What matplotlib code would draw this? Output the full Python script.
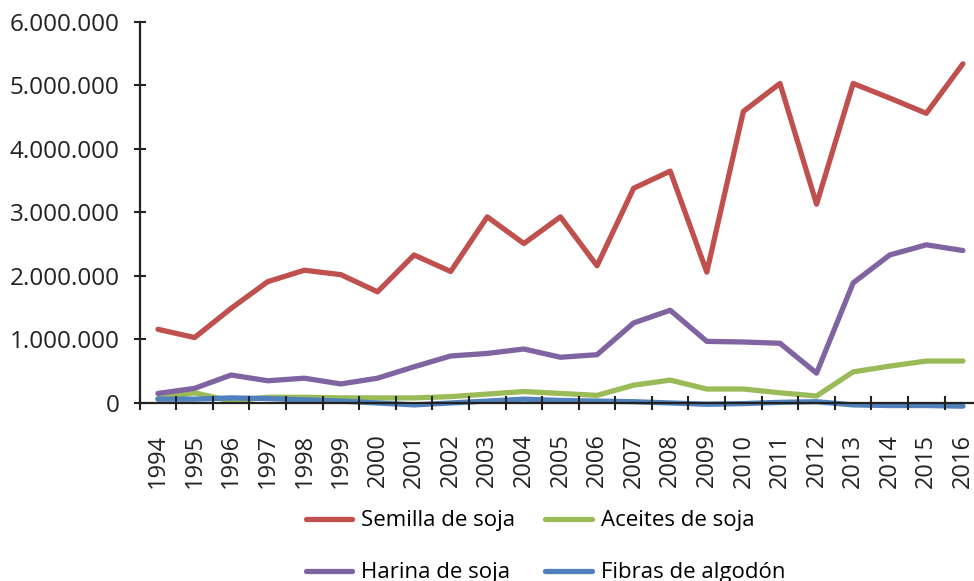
import matplotlib.pyplot as plt
from matplotlib.ticker import FuncFormatter

plt.rcParams['font.family'] = ['Open Sans', 'DejaVu Sans']

# Años y series
anios = [str(a) for a in range(1994, 2017)]
semilla = [1.16, 1.03, 1.49, 1.91, 2.09, 2.02, 1.75, 2.33, 2.07, 2.93, 2.51, 2.93,
           2.16, 3.38, 3.65, 2.06, 4.59, 5.03, 3.13, 5.03, 4.80, 4.56, 5.34]
aceites = [0.07, 0.16, 0.03, 0.09, 0.09, 0.08, 0.08, 0.08, 0.10, 0.14, 0.18, 0.15,
           0.12, 0.28, 0.36, 0.22, 0.22, 0.16, 0.11, 0.49, 0.58, 0.66, 0.66]
harina = [0.15, 0.23, 0.44, 0.35, 0.39, 0.30, 0.39, 0.57, 0.74, 0.78, 0.85, 0.72,
          0.76, 1.26, 1.46, 0.97, 0.96, 0.94, 0.47, 1.89, 2.33, 2.49, 2.40]
fibras = [0.06, 0.06, 0.08, 0.07, 0.05, 0.03, 0.00, -0.03, 0.00, 0.03, 0.06, 0.04,
          0.03, 0.02, 0.00, -0.02, -0.01, 0.01, 0.02, -0.03, -0.04, -0.04, -0.05]

series = [
    ("Semilla de soja", semilla, "#C0504D"),
    ("Aceites de soja", aceites, "#9BBB59"),
    ("Harina de soja", harina, "#8064A2"),
    ("Fibras de algodón", fibras, "#4F81BD"),
]

fig = plt.figure(figsize=(9.74, 5.81), dpi=100)
ax = fig.add_axes([0.1434, 0.3064, 0.864, 0.656])

x = list(range(len(anios)))
lineas = {}
for nombre, valores, color in series:
    (ln,) = ax.plot(x, [v * 1e6 for v in valores], color=color, lw=3.8, label=nombre,
                    solid_capstyle='round', solid_joinstyle='round', clip_on=False)
    lineas[nombre] = ln

ax.set_xlim(-0.5, len(anios) - 0.5)
ax.set_ylim(0, 6e6)
ax.set_yticks([i * 1e6 for i in range(7)])
ax.yaxis.set_major_formatter(FuncFormatter(lambda v, p: f"{int(v):,}".replace(",", ".")))

# etiquetas en las categorías, marcas entre categorías
ax.set_xticks(x)
ax.set_xticklabels(anios, rotation=90, fontsize=17, color='#222222')
ax.set_xticks([i - 0.5 for i in range(len(anios) + 1)], minor=True)
ax.tick_params(axis='x', which='major', length=0, pad=22)
ax.tick_params(axis='x', which='minor', direction='inout', length=10, width=1.5, color='#222222')
ax.tick_params(axis='y', direction='inout', length=9, width=1.5, color='#222222',
               labelsize=17.5, labelcolor='#222222', pad=10)

for lado in ['top', 'right']:
    ax.spines[lado].set_visible(False)
for lado in ['left', 'bottom']:
    ax.spines[lado].set_linewidth(1.6)
    ax.spines[lado].set_color('#222222')
ax.set_axisbelow(False)

orden = ["Semilla de soja", "Harina de soja", "Aceites de soja", "Fibras de algodón"]
fig.legend([lineas[n] for n in orden], orden, loc='upper center', ncol=2,
           bbox_to_anchor=(0.560, 0.156), frameon=False, fontsize=16,
           handlelength=2.1, handletextpad=0.4, columnspacing=1.35, labelspacing=1.4)

fig.savefig("out.png", dpi=100)
